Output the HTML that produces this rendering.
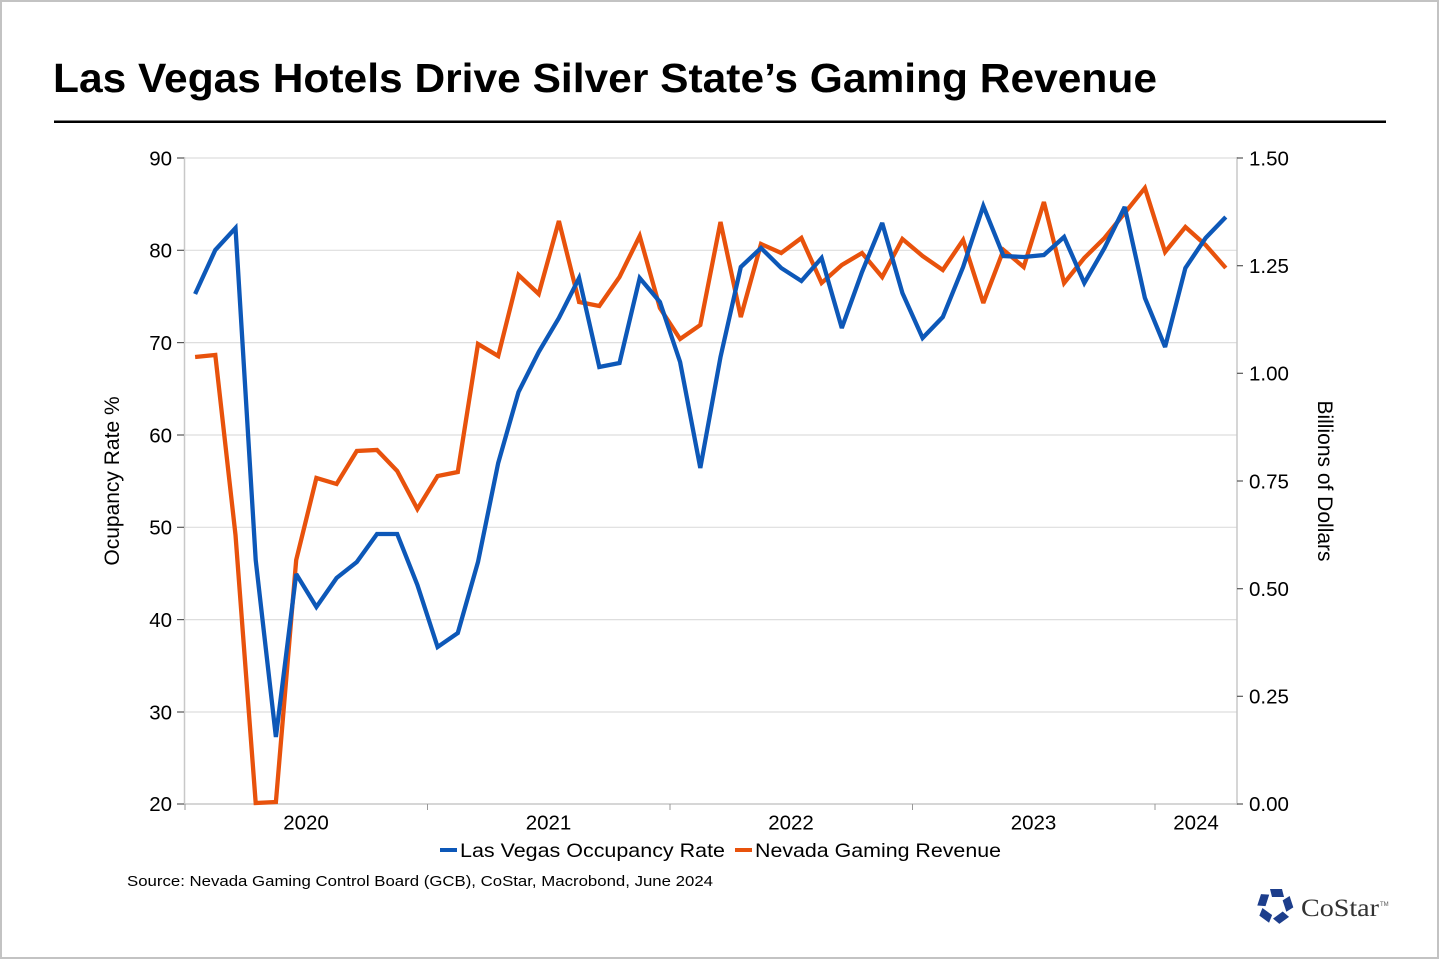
<!DOCTYPE html>
<html><head><meta charset="utf-8"><style>
html,body{margin:0;padding:0;background:#fff;}
svg{display:block;}
text{font-family:"Liberation Sans",Arial,sans-serif;fill:#000;}
</style></head><body>
<svg width="1440" height="960" viewBox="0 0 1440 960" xmlns="http://www.w3.org/2000/svg">
<rect x="0" y="0" width="1440" height="960" fill="#fff"/>
<rect x="1" y="1" width="1437" height="957" fill="none" stroke="#c3c3c3" stroke-width="2"/>
<text x="53" y="92" font-size="41" font-weight="bold" textLength="1104" lengthAdjust="spacingAndGlyphs">Las Vegas Hotels Drive Silver State’s Gaming Revenue</text>
<rect x="54" y="120.5" width="1332" height="2.5" fill="#000"/>
<!-- gridlines -->
<g stroke="#dedede" stroke-width="1.2">
<line x1="184" y1="158" x2="1237" y2="158"/>
<line x1="184" y1="250.3" x2="1237" y2="250.3"/>
<line x1="184" y1="342.6" x2="1237" y2="342.6"/>
<line x1="184" y1="435" x2="1237" y2="435"/>
<line x1="184" y1="527.3" x2="1237" y2="527.3"/>
<line x1="184" y1="619.6" x2="1237" y2="619.6"/>
<line x1="184" y1="712" x2="1237" y2="712"/>
</g>
<g stroke="#c8c8c8" stroke-width="1.5">
<line x1="184.5" y1="157" x2="184.5" y2="805"/>
<line x1="1237" y1="157" x2="1237" y2="805"/>
<line x1="184" y1="804" x2="1237" y2="804"/>
</g>
<g stroke="#555" stroke-width="1.2">
<line x1="177" y1="158" x2="184" y2="158"/>
<line x1="177" y1="250.3" x2="184" y2="250.3"/>
<line x1="177" y1="342.6" x2="184" y2="342.6"/>
<line x1="177" y1="435" x2="184" y2="435"/>
<line x1="177" y1="527.3" x2="184" y2="527.3"/>
<line x1="177" y1="619.6" x2="184" y2="619.6"/>
<line x1="177" y1="712" x2="184" y2="712"/>
<line x1="177" y1="804" x2="184" y2="804"/>
<line x1="1237" y1="158" x2="1243" y2="158"/>
<line x1="1237" y1="265.7" x2="1243" y2="265.7"/>
<line x1="1237" y1="373.3" x2="1243" y2="373.3"/>
<line x1="1237" y1="481" x2="1243" y2="481"/>
<line x1="1237" y1="588.7" x2="1243" y2="588.7"/>
<line x1="1237" y1="696.3" x2="1243" y2="696.3"/>
<line x1="1237" y1="804" x2="1243" y2="804"/>
</g>
<g stroke="#999" stroke-width="1">
<line x1="185" y1="804" x2="185" y2="810"/>
<line x1="427.5" y1="804" x2="427.5" y2="810"/>
<line x1="670" y1="804" x2="670" y2="810"/>
<line x1="912.5" y1="804" x2="912.5" y2="810"/>
<line x1="1155" y1="804" x2="1155" y2="810"/>
</g>
<!-- left tick labels -->
<g font-size="20.5" text-anchor="end">
<text x="172" y="165.3">90</text>
<text x="172" y="257.6">80</text>
<text x="172" y="349.9">70</text>
<text x="172" y="442.3">60</text>
<text x="172" y="534.6">50</text>
<text x="172" y="626.9">40</text>
<text x="172" y="719.3">30</text>
<text x="172" y="811">20</text>
</g>
<g font-size="20.5" text-anchor="start">
<text x="1249" y="165.3">1.50</text>
<text x="1249" y="273">1.25</text>
<text x="1249" y="380.6">1.00</text>
<text x="1249" y="488.3">0.75</text>
<text x="1249" y="596">0.50</text>
<text x="1249" y="703.6">0.25</text>
<text x="1249" y="811">0.00</text>
</g>
<g font-size="20.5" text-anchor="middle">
<text x="306" y="829.5">2020</text>
<text x="548.5" y="829.5">2021</text>
<text x="791" y="829.5">2022</text>
<text x="1033.5" y="829.5">2023</text>
<text x="1196" y="829.5">2024</text>
</g>
<text font-size="21" text-anchor="middle" transform="translate(119,481) rotate(-90)">Ocupancy Rate %</text>
<text font-size="21" text-anchor="middle" transform="translate(1318,481) rotate(90)">Billions of Dollars</text>
<!-- series -->
<polyline fill="none" stroke="#e8520c" stroke-width="4.3" stroke-linejoin="miter" stroke-miterlimit="3" points="195.1,357 215.3,355 235.5,535 255.7,803 275.9,802 296.2,560 316.4,478 336.6,484 356.8,451 377,450 397.2,471 417.4,509 437.6,476 457.8,472 478.0,344 498.2,356 518.5,275 538.7,294 558.9,221 579.1,302 599.3,306 619.5,277 639.7,236 659.9,308 680.1,339 700.3,325 720.5,222 740.8,317 761.0,244 781.2,253 801.4,238 821.6,283 841.8,265 862.0,253 882.2,277 902.4,239 922.6,256 942.8,270 963.1,240 983.3,303 1003.5,250 1023.7,267 1043.9,202 1064.1,283 1084.3,258 1104.5,238 1124.7,213 1144.9,188 1165.1,252 1185.4,227 1205.6,245 1225.8,268"/>
<polyline fill="none" stroke="#0d58b8" stroke-width="4.3" stroke-linejoin="miter" stroke-miterlimit="3" points="195.1,294 215.3,250 235.5,228 255.7,560 275.9,737 296.2,574 316.4,607 336.6,578 356.8,562 377,534 397.2,534 417.4,585 437.6,647 457.8,633 478.0,562 498.2,463 518.5,392 538.7,352 558.9,318 579.1,278 599.3,367 619.5,363 639.7,278 659.9,302 680.1,362 700.3,468 720.5,357 740.8,267 761.0,248 781.2,268 801.4,281 821.6,258 841.8,328 862.0,272 882.2,223 902.4,293 922.6,338 942.8,317 963.1,267 983.3,206 1003.5,256 1023.7,257 1043.9,255 1064.1,237 1084.3,283 1104.5,248 1124.7,207 1144.9,298 1165.1,347 1185.4,268 1205.6,238 1225.8,217"/>
<!-- legend -->
<rect x="440" y="848" width="17" height="4" fill="#0d58b8"/>
<text x="460" y="857" font-size="19.5" textLength="265" lengthAdjust="spacingAndGlyphs">Las Vegas Occupancy Rate</text>
<rect x="735" y="848" width="17" height="4" fill="#e8520c"/>
<text x="755" y="857" font-size="19.5" textLength="246" lengthAdjust="spacingAndGlyphs">Nevada Gaming Revenue</text>
<text x="127" y="886" font-size="15" textLength="586" lengthAdjust="spacingAndGlyphs">Source: Nevada Gaming Control Board (GCB), CoStar, Macrobond, June 2024</text>
<!-- CoStar logo -->
<g fill="#1d3e8c" transform="translate(1275,906)">
<polygon points="-5,-17 7,-17 9,-9 -3,-9" transform="rotate(0)"/>
<polygon points="-5,-17 7,-17 9,-9 -3,-9" transform="rotate(72)"/>
<polygon points="-5,-17 7,-17 9,-9 -3,-9" transform="rotate(144)"/>
<polygon points="-5,-17 7,-17 9,-9 -3,-9" transform="rotate(216)"/>
<polygon points="-5,-17 7,-17 9,-9 -3,-9" transform="rotate(288)"/>
</g>
<text x="1301" y="916" font-size="25" style="font-family:'Liberation Serif',serif;fill:#333" textLength="78" lengthAdjust="spacingAndGlyphs">CoStar</text>
<text x="1380" y="906" font-size="6" style="fill:#555">TM</text>
</svg>
</body></html>
